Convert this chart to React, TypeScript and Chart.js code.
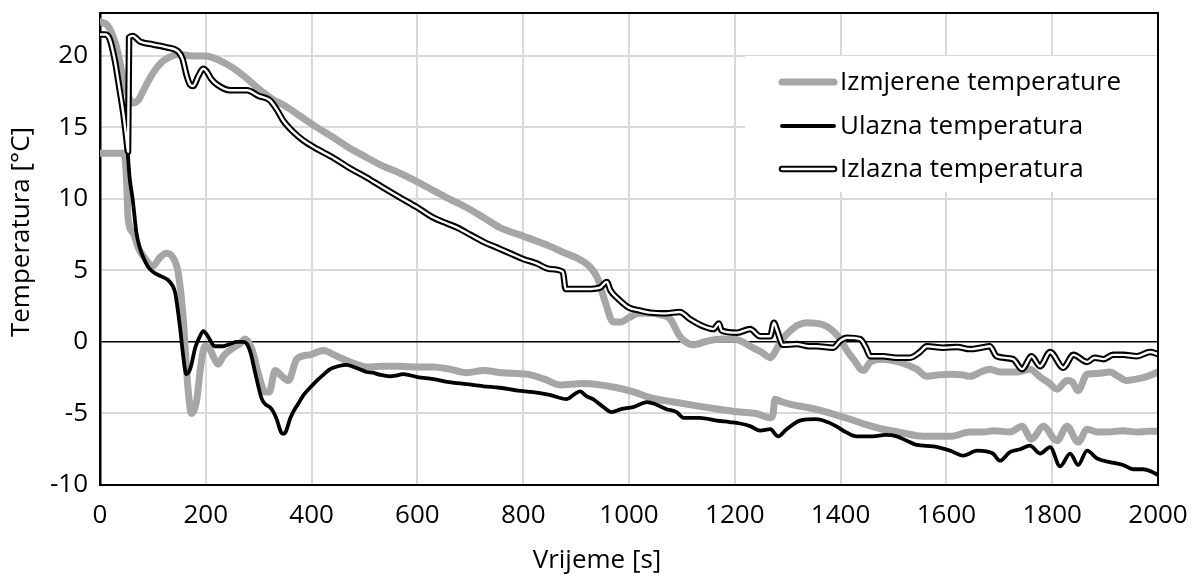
import React, { useEffect, useRef } from "react";
import { Chart, registerables } from "chart.js";

Chart.register(...registerables);

const FONT = "'Open Sans', Lato, sans-serif";
const FONT_SIZE = 26;

// ---- data ----
const xTickStep = 200;
const yTickStep = 5;
const xMin = 0;
const xMax = 2000;
const yMin = -10;
const yMax = 23;

const legendLabels = ["Izmjerene temperature", "Ulazna temperatura", "Izlazna temperatura"];
const xTitle = "Vrijeme [s]";
const yTitle = "Temperatura [°C]";

// measured temperature (upper sensor)
const measUpperT = [0, 15, 30, 42, 52, 62, 72, 85, 100, 115, 130, 150, 175, 200, 225, 250, 275, 300, 325, 350, 378, 410, 441, 470, 504, 535, 567, 600, 630, 660, 693, 725, 756, 800, 850, 880, 900, 925, 940, 955, 970, 985, 1000, 1020, 1040, 1060, 1078, 1096, 1121, 1147, 1175, 1197, 1215, 1229, 1250, 1267, 1279, 1290, 1304, 1320, 1336, 1367, 1385, 1399, 1412, 1424, 1443, 1456, 1480, 1510, 1544, 1563, 1585, 1607, 1630, 1645, 1665, 1682, 1701, 1733, 1758, 1777, 1795, 1809, 1828, 1838, 1849, 1866, 1885, 1909, 1925, 1941, 1958, 1972, 1988, 2000];
const measUpperV = [22.4, 22.1, 20.8, 18.8, 17.4, 16.7, 16.9, 17.8, 18.8, 19.5, 19.9, 20.1, 20.0, 20.0, 19.7, 19.2, 18.5, 17.7, 17.0, 16.5, 15.8, 15.0, 14.3, 13.6, 12.9, 12.3, 11.8, 11.2, 10.6, 10.0, 9.4, 8.7, 8.0, 7.4, 6.7, 6.2, 5.9, 5.3, 4.5, 2.8, 1.4, 1.4, 1.7, 2.0, 2.0, 1.9, 1.6, 0.4, -0.2, 0.05, 0.2, 0.2, 0.0, -0.3, -0.7, -1.1, -0.5, 0.2, 0.75, 1.2, 1.35, 1.2, 0.8, 0.2, -0.6, -1.2, -2.0, -1.4, -1.2, -1.4, -1.9, -2.4, -2.3, -2.25, -2.3, -2.4, -2.1, -1.9, -2.1, -2.1, -1.9, -2.45, -2.9, -3.3, -2.7, -2.8, -3.4, -2.25, -2.2, -2.1, -2.4, -2.7, -2.6, -2.5, -2.3, -2.1];

// measured temperature (lower sensor)
const measLowerT = [0, 20, 45, 50, 53, 63, 72, 82, 100, 113, 126, 138, 148, 157, 166, 173, 183, 190, 198, 206, 214, 223, 233, 252, 265, 274, 287, 302, 312, 320, 331, 344, 356, 372, 397, 422, 448, 473, 504, 530, 567, 600, 630, 660, 693, 725, 760, 807, 840, 870, 913, 945, 977, 1010, 1040, 1085, 1134, 1170, 1210, 1240, 1267, 1272, 1276, 1290, 1304, 1340, 1374, 1418, 1450, 1480, 1510, 1544, 1575, 1607, 1645, 1669, 1690, 1720, 1743, 1761, 1783, 1809, 1828, 1849, 1866, 1885, 1903, 1934, 1960, 1980, 2000];
const measLowerV = [13.2, 13.2, 13.2, 11.5, 8.7, 7.6, 6.6, 6.0, 5.3, 5.9, 6.2, 5.9, 4.8, 1.8, -3.1, -5.0, -4.0, -1.8, -0.3, -0.4, -1.0, -1.55, -1.0, -0.4, -0.1, 0.2, -0.5, -2.6, -3.5, -3.5, -2.0, -2.4, -2.7, -1.2, -0.9, -0.6, -1.0, -1.4, -1.75, -1.7, -1.7, -1.75, -1.75, -1.9, -2.15, -2.0, -2.15, -2.25, -2.6, -3.0, -2.9, -3.0, -3.2, -3.5, -3.9, -4.2, -4.5, -4.7, -4.9, -5.0, -5.3, -5.1, -4.0, -4.2, -4.35, -4.6, -4.9, -5.4, -5.8, -6.1, -6.3, -6.55, -6.6, -6.6, -6.3, -6.3, -6.2, -6.3, -5.9, -6.8, -5.9, -6.9, -5.9, -7.0, -6.1, -6.3, -6.3, -6.2, -6.3, -6.25, -6.25];

// inlet temperature
const inletT = [0, 10, 18, 28, 36, 44, 51, 56, 62, 69, 76, 82, 90, 100, 115, 128, 136, 142, 151, 158, 163, 168, 172, 180, 189, 195, 204, 210, 217, 233, 245, 259, 270, 278, 285, 293, 306, 314, 321, 328, 334, 340, 344, 349, 353, 359, 365, 375, 384, 397, 410, 422, 435, 450, 466, 480, 491, 504, 516, 530, 548, 560, 573, 600, 630, 660, 693, 725, 756, 790, 819, 850, 882, 895, 907, 920, 932, 950, 967, 985, 1008, 1034, 1050, 1071, 1090, 1103, 1134, 1166, 1190, 1210, 1230, 1248, 1267, 1282, 1298, 1323, 1354, 1375, 1392, 1410, 1430, 1461, 1485, 1506, 1525, 1544, 1575, 1607, 1632, 1658, 1688, 1701, 1720, 1739, 1758, 1777, 1796, 1815, 1834, 1849, 1866, 1885, 1909, 1934, 1953, 1972, 1990, 2000];
const inletV = [21.5, 21.5, 21.2, 19.7, 17.8, 16.2, 13.9, 11.5, 9.9, 7.6, 6.5, 5.9, 5.3, 4.9, 4.6, 4.35, 4.0, 3.45, 1.1, -1.2, -2.25, -2.1, -1.7, -0.4, 0.4, 0.75, 0.4, 0.0, -0.3, -0.3, -0.15, 0.0, 0.0, -0.15, -0.8, -2.1, -4.0, -4.4, -4.55, -4.9, -5.4, -6.1, -6.4, -6.4, -6.1, -5.4, -4.9, -4.3, -3.75, -3.2, -2.7, -2.3, -1.9, -1.7, -1.6, -1.75, -1.9, -2.1, -2.15, -2.3, -2.4, -2.35, -2.25, -2.45, -2.6, -2.8, -2.95, -3.1, -3.2, -3.4, -3.5, -3.7, -4.0, -3.7, -3.45, -3.8, -4.0, -4.5, -4.9, -4.7, -4.55, -4.2, -4.35, -4.7, -4.9, -5.3, -5.3, -5.5, -5.6, -5.7, -5.9, -6.2, -6.1, -6.6, -6.1, -5.5, -5.4, -5.6, -5.9, -6.3, -6.6, -6.6, -6.5, -6.6, -6.9, -7.2, -7.3, -7.6, -7.95, -7.6, -7.8, -8.3, -7.7, -7.5, -7.25, -7.8, -7.35, -8.7, -7.8, -8.6, -7.6, -8.15, -8.4, -8.6, -8.9, -8.9, -9.1, -9.3];

// outlet temperature
const outletT = [0, 10, 18, 28, 36, 44, 50, 53, 55, 62, 76, 100, 126, 148, 156, 164, 170, 176, 186, 195, 202, 210, 221, 246, 278, 300, 321, 335, 346, 365, 384, 410, 440, 470, 504, 535, 567, 600, 630, 655, 675, 700, 725, 750, 775, 800, 825, 850, 875, 880, 900, 920, 945, 958, 965, 980, 1000, 1020, 1040, 1070, 1096, 1115, 1140, 1160, 1170, 1175, 1204, 1229, 1248, 1267, 1274, 1280, 1291, 1317, 1340, 1354, 1386, 1400, 1412, 1437, 1448, 1456, 1480, 1505, 1531, 1550, 1563, 1594, 1620, 1645, 1665, 1682, 1695, 1726, 1743, 1761, 1777, 1796, 1821, 1840, 1866, 1880, 1897, 1915, 1934, 1960, 1985, 2000];
const outletV = [21.5, 21.5, 21.2, 19.7, 17.9, 16.0, 14.2, 13.3, 21.3, 21.4, 21.0, 20.8, 20.6, 20.3, 19.8, 18.6, 18.0, 17.9, 18.6, 19.1, 18.9, 18.4, 18.0, 17.6, 17.6, 17.2, 16.9, 16.2, 15.5, 14.7, 14.1, 13.5, 12.9, 12.2, 11.5, 10.8, 10.1, 9.4, 8.7, 8.3, 8.0, 7.5, 7.0, 6.6, 6.2, 5.8, 5.5, 5.1, 4.9, 3.7, 3.7, 3.7, 3.8, 4.2, 3.6, 3.0, 2.4, 2.2, 2.05, 2.0, 2.1, 1.6, 1.1, 0.9, 1.3, 0.8, 0.65, 0.9, 0.4, 0.4, 1.35, 0.8, -0.2, -0.15, -0.3, -0.3, -0.4, 0.1, 0.3, 0.2, -0.4, -1.0, -1.0, -1.1, -1.1, -0.7, -0.3, -0.4, -0.35, -0.5, -0.4, -0.3, -1.0, -1.2, -1.9, -1.0, -1.7, -0.7, -1.8, -0.9, -1.4, -1.1, -1.2, -0.9, -0.9, -1.0, -0.7, -0.85];

const toPts = (t: number[], v: number[]) => t.map((x, i) => ({ x, y: v[i] }));

const GREY = "#a6a6a6";
const CLEAR = "rgba(0,0,0,0)";

const customPlugin = {
  id: "customDecor",
  beforeDatasetsDraw(chart: any) {
    const ctx = chart.ctx;
    ctx.save();
    ctx.fillStyle = "#fff";
    ctx.fillRect(745, 56, 412, 136);
    ctx.restore();
  },
  afterDraw(chart: any) {
    const ctx = chart.ctx;
    const a = chart.chartArea;
    ctx.save();
    // plot box top/right
    ctx.strokeStyle = "#000";
    ctx.lineWidth = 2;
    ctx.beginPath();
    ctx.moveTo(a.left, a.top);
    ctx.lineTo(a.right, a.top);
    ctx.lineTo(a.right, a.bottom);
    ctx.stroke();

    // legend
    const rows = [82, 126, 169];
    const x0 = 782;
    const x1 = 834;
    const line = (y: number, color: string, w: number) => {
      ctx.strokeStyle = color;
      ctx.lineWidth = w;
      ctx.lineCap = "round";
      ctx.beginPath();
      ctx.moveTo(x0, y);
      ctx.lineTo(x1, y);
      ctx.stroke();
    };
    line(rows[0], GREY, 7);
    line(rows[1], "#000", 4);
    line(rows[2], "#000", 6.5);
    line(rows[2], "#fff", 2.4);
    ctx.fillStyle = "#000";
    ctx.font = `${FONT_SIZE}px ${FONT}`;
    ctx.textBaseline = "middle";
    ctx.textAlign = "left";
    legendLabels.forEach((l, i) => ctx.fillText(l, 840, rows[i] + 1));

    // axis titles
    ctx.textAlign = "center";
    ctx.fillText(xTitle, 597, 561);
    ctx.translate(22, 232);
    ctx.rotate(-Math.PI / 2);
    ctx.fillText(yTitle, 0, 0);
    ctx.restore();
  },
};

export default function App() {
  const ref = useRef<HTMLCanvasElement>(null);

  useEffect(() => {
    if (!ref.current) return;
    const common = {
      fill: false,
      pointRadius: 0,
      pointHoverRadius: 0,
      cubicInterpolationMode: "monotone" as const,
      borderCapStyle: "round" as const,
      borderJoinStyle: "round" as const,
    };
    const chart = new Chart(ref.current, {
      type: "line",
      data: {
        datasets: [
          { ...common, label: legendLabels[0], data: toPts(measUpperT, measUpperV), borderColor: GREY, borderWidth: 7, order: 10 },
          { ...common, label: legendLabels[0], data: toPts(measLowerT, measLowerV), borderColor: GREY, borderWidth: 7, order: 9 },
          { ...common, label: legendLabels[1], data: toPts(inletT, inletV), borderColor: "#000", borderWidth: 3.8, order: 5 },
          { ...common, label: legendLabels[2], data: toPts(outletT, outletV), borderColor: "#000", borderWidth: 6.5, order: 3 },
          { ...common, label: legendLabels[2] + " ", data: toPts(outletT, outletV), borderColor: "#fff", borderWidth: 2.4, order: 1 },
        ],
      },
      options: {
        animation: false,
        responsive: false,
        maintainAspectRatio: false,
        layout: { padding: { top: 13, right: 38, left: 0, bottom: 0 } },
        plugins: { legend: { display: false }, tooltip: { enabled: false } },
        scales: {
          x: {
            type: "linear",
            min: xMin,
            max: xMax,
            afterFit: (s: any) => { s.height = 95; },
            ticks: {
              stepSize: xTickStep,
              padding: 0,
              color: "#000",
              font: { family: FONT, size: FONT_SIZE, lineHeight: 1.2 },
              maxRotation: 0,
              includeBounds: false,
              callback: (v: any) => String(v),
            },
            grid: {
              drawTicks: true,
              tickLength: 15,
              tickColor: CLEAR,
              color: (c: any) => (c.tick && (c.tick.value === xMin || c.tick.value === xMax) ? CLEAR : "#d9d9d9"),
              lineWidth: 2,
            },
            border: { display: true, color: "#000", width: 2 },
          },
          y: {
            type: "linear",
            min: yMin,
            max: yMax,
            afterFit: (s: any) => { s.width = 100; },
            ticks: {
              stepSize: yTickStep,
              padding: 0,
              color: "#000",
              font: { family: FONT, size: FONT_SIZE, lineHeight: 1 },
              includeBounds: false,
            },
            grid: {
              drawTicks: true,
              tickLength: 12,
              tickColor: CLEAR,
              color: (c: any) => (c.tick && c.tick.value === 0 ? "#000" : c.tick && c.tick.value === yMin ? CLEAR : "#d9d9d9"),
              lineWidth: (c: any) => (c.tick && c.tick.value === 0 ? 1.6 : 2),
            },
            border: { display: true, color: "#000", width: 2.5 },
          },
        },
      },
      plugins: [customPlugin],
    } as any);
    return () => chart.destroy();
  }, []);

  return (
    <div style={{ position: "absolute", left: 0, top: 0, width: 1196, height: 580, background: "#fff" }}>
      <canvas ref={ref} width={1196} height={580} style={{ width: 1196, height: 580 }} />
    </div>
  );
}
